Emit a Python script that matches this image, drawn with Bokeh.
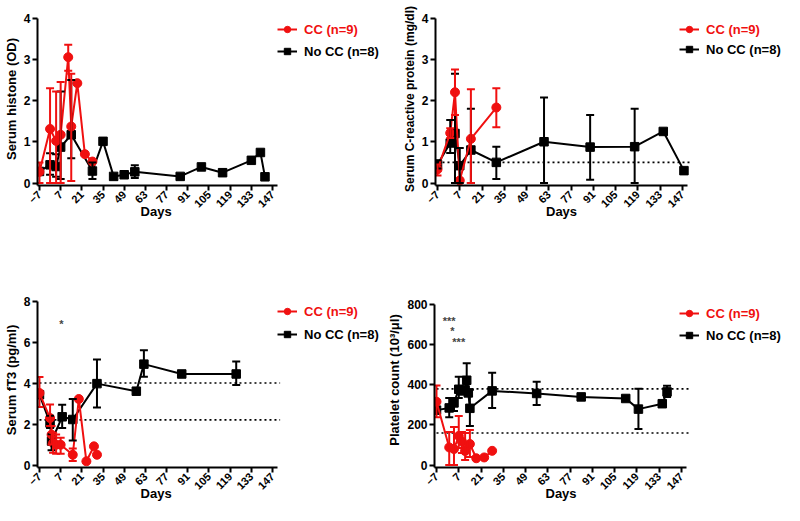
import math
from bokeh.plotting import figure
from bokeh.models import (ColumnDataSource, Whisker, TeeHead, Legend, LegendItem,
                          FixedTicker, Range1d)
from bokeh.layouts import column, row
from bokeh.embed import file_html
from bokeh.resources import INLINE
from bokeh.core.properties import value

FONT = "Liberation Sans"
RED = "#f01010"
BLACK = "#000000"

X_TICKS = [-7, 7, 21, 35, 49, 63, 77, 91, 105, 119, 133, 147]
X_AXIS_END = 150
REF_LINE_END = 152
X_TITLE = "Days"

# ---------------- Panel 1: serum histone ----------------
H_CC_DAYS = [-7, 0, 4, 7, 12, 14, 18, 23, 28]
H_CC_MEAN = [0.27, 1.31, 1.02, 1.17, 3.05, 1.37, 2.42, 0.70, 0.52]
H_CC_LOW = [0.00, 0.00, 0.00, 0.00, 2.72, 0.05, 2.42, 0.70, 0.52]
H_CC_HIGH = [0.50, 2.30, 2.22, 2.45, 3.35, 2.65, 2.42, 0.70, 0.52]

H_NO_DAYS = [-7, 0, 4, 7, 14, 28, 35, 42, 49, 56, 86, 100, 114, 133, 139, 142]
H_NO_MEAN = [0.28, 0.44, 0.40, 0.87, 1.17, 0.29, 1.01, 0.16, 0.20, 0.27, 0.16, 0.39, 0.25, 0.55, 0.74, 0.15]
H_NO_LOW = [0.28, 0.20, 0.15, 0.10, 0.60, 0.10, 1.01, 0.16, 0.20, 0.12, 0.16, 0.39, 0.18, 0.55, 0.74, 0.15]
H_NO_HIGH = [0.28, 0.72, 0.70, 2.22, 2.50, 0.50, 1.01, 0.16, 0.20, 0.43, 0.16, 0.39, 0.32, 0.55, 0.74, 0.15]
H_YTICKS = [0, 1, 2, 3, 4]
H_REF = []

# ---------------- Panel 2: C-reactive protein ----------------
C_CC_DAYS = [-7, 1, 4, 7, 14, 30]
C_CC_MEAN = [0.33, 1.21, 2.20, 0.06, 1.07, 1.83]
C_CC_LOW = [0.18, 1.09, 1.65, 0.06, 0.00, 1.35]
C_CC_HIGH = [0.45, 1.33, 2.75, 0.06, 2.27, 2.30]

C_NO_DAYS = [-7, 1, 4, 7, 14, 30, 60, 89, 117, 135, 148]
C_NO_MEAN = [0.45, 0.97, 1.20, 0.42, 0.80, 0.50, 1.00, 0.87, 0.88, 1.25, 0.30]
C_NO_LOW = [0.35, 0.73, 0.00, 0.00, 0.00, 0.10, 0.00, 0.08, 0.00, 1.25, 0.30]
C_NO_HIGH = [0.55, 1.53, 2.65, 0.85, 1.80, 0.88, 2.07, 1.65, 1.80, 1.25, 0.30]
C_YTICKS = [0, 1, 2, 3, 4]
C_REF = [0.5]

# ---------------- Panel 3: serum fT3 ----------------
T_CC_DAYS = [-7, 0, 1, 2, 4, 7, 15, 19, 24, 29, 31]
T_CC_MEAN = [3.51, 2.29, 1.48, 1.07, 0.99, 0.99, 0.50, 3.22, 0.18, 0.91, 0.50]
T_CC_LOW = [2.83, 1.90, 1.00, 0.60, 0.55, 0.55, 0.19, 3.22, 0.18, 0.91, 0.50]
T_CC_HIGH = [4.29, 2.95, 1.90, 1.57, 1.49, 1.33, 0.81, 3.22, 0.18, 0.91, 0.50]

T_NO_DAYS = [-7, 0, 1, 8, 15, 31, 57, 62, 87, 123]
T_NO_MEAN = [3.43, 2.05, 1.17, 2.35, 2.22, 3.97, 3.60, 4.92, 4.44, 4.44]
T_NO_LOW = [3.43, 1.80, 0.72, 1.80, 1.20, 2.80, 3.60, 4.30, 4.44, 3.90]
T_NO_HIGH = [3.43, 2.40, 1.50, 2.94, 3.22, 5.15, 3.60, 5.60, 4.44, 5.05]
T_YTICKS = [0, 2, 4, 6, 8]
T_REF = [4.0, 2.2]
T_SIG_DAYS = [7.5]
T_SIG_Y = [6.87]
T_SIG_TEXT = ["*"]

# ---------------- Panel 4: platelet count ----------------
P_CC_DAYS = [-7, 1, 4, 7, 9, 11, 14, 18, 23, 28]
P_CC_MEAN = [316, 88, 80, 145, 117, 70, 105, 34, 38, 71]
P_CC_LOW = [238, 0, 0, 85, 60, 25, 40, 34, 38, 71]
P_CC_HIGH = [397, 165, 190, 245, 165, 160, 175, 34, 38, 71]

P_NO_DAYS = [-7, 1, 4, 7, 9, 11, 12, 13, 14, 28, 56, 84, 112, 120, 135, 138]
P_NO_MEAN = [274, 285, 310, 378, 370, 375, 423, 360, 283, 370, 357, 340, 332, 279, 306, 365]
P_NO_LOW = [274, 238, 270, 335, 370, 375, 370, 360, 195, 285, 300, 340, 332, 180, 306, 340]
P_NO_HIGH = [274, 335, 335, 440, 370, 375, 508, 360, 375, 460, 415, 340, 332, 380, 306, 395]
P_YTICKS = [0, 200, 400, 600, 800]
P_REF = [380, 160]
P_SIG_DAYS = [1, 3, 7]
P_SIG_Y = [719, 667, 614]
P_SIG_TEXT = ["***", "*", "***"]

LABEL_CC = "CC (n=9)"
LABEL_NO = "No CC (n=8)"

XTITLE_PX = 13
NBSP_EM = 0.278  # advance width of a no-break space


def make_panel(ylabel, ylabel_size, yticks, ymax, cc, no, refs, sig, geom, legend_pos):
    width, height, bl, bt, bb, ppd, ppu = geom
    br = 3
    fw = width - bl - br
    fh = height - bt - bb
    x0 = -7 - 2.0 / ppd
    x1 = x0 + fw / ppd
    y0 = -2.5 / ppu
    y1 = y0 + fh / ppu
    p = figure(width=width, height=height, x_range=Range1d(x0, x1), y_range=Range1d(y0, y1),
               output_backend="svg", toolbar_location=None,
               min_border_left=bl, min_border_right=br, min_border_top=bt, min_border_bottom=bb)
    p.outline_line_color = None
    p.xgrid.visible = False
    p.ygrid.visible = False

    for v in refs:
        p.line([-7, REF_LINE_END], [v, v], line_color="black", line_width=1.6, line_dash="2 3")

    rend = {}
    for key, (days, mean, low, high), color, marker, size in (
            ("no", no, BLACK, "square", 8.5), ("cc", cc, RED, "circle", 9)):
        src = ColumnDataSource(dict(x=days, y=mean))
        lr = p.line("x", "y", source=src, line_color=color, line_width=2)
        idx = [i for i in range(len(days)) if low[i] < mean[i] or high[i] > mean[i]]
        wsrc = ColumnDataSource(dict(base=[days[i] for i in idx],
                                     lower=[low[i] for i in idx],
                                     upper=[high[i] for i in idx]))
        w = Whisker(source=wsrc, base="base", lower="lower", upper="upper", dimension="height",
                    line_color=color, line_width=2, level="glyph",
                    upper_head=TeeHead(size=8, line_color=color, line_width=2),
                    lower_head=TeeHead(size=8, line_color=color, line_width=2))
        p.add_layout(w)
        sr = p.scatter("x", "y", source=src, marker=marker, size=size,
                       fill_color=color, line_color=color)
        rend[key] = (lr, sr)

    if sig is not None:
        sd, sy, st = sig
        p.text(x=sd, y=sy, text=st, text_font=value(FONT), text_font_size="11px",
               text_font_style="bold", text_align="center", text_baseline="middle",
               text_color="#444444")

    for key, label, color, (vx, vy) in (("cc", LABEL_CC, RED, legend_pos[0]),
                                         ("no", LABEL_NO, BLACK, legend_pos[1])):
        leg = Legend(items=[LegendItem(label=label, renderers=list(rend[key]))],
                     location=(vx, vy), orientation="vertical",
                     label_text_font=FONT, label_text_font_size="13px",
                     label_text_font_style="bold", label_text_color=color,
                     glyph_width=20, glyph_height=16, label_height=16, label_standoff=7,
                     padding=0, margin=0, spacing=0, border_line_color=None,
                     background_fill_alpha=0)
        p.add_layout(leg)

    for ax in (p.xaxis[0], p.yaxis[0]):
        ax.axis_line_width = 2
        ax.axis_line_color = "black"
        ax.major_tick_line_width = 2
        ax.major_tick_line_color = "black"
        ax.major_tick_in = 0
        ax.major_tick_out = 5
        ax.minor_tick_line_color = None
        ax.major_label_text_font = FONT
        ax.major_label_text_font_style = "bold"
        ax.major_label_text_color = "black"
        ax.axis_label_text_font = FONT
        ax.axis_label_text_font_style = "bold"
        ax.axis_label_text_color = "black"
        ax.major_label_standoff = 2
        ax.axis_label_standoff = 2

    xa = p.xaxis[0]
    xa.ticker = FixedTicker(ticks=X_TICKS)
    xa.bounds = (x0, X_AXIS_END)
    xa.major_label_orientation = math.pi / 4
    xa.major_label_text_font_size = "11px"
    # the frame is wider than the drawn axis (legend room); pad the title so that
    # "Days" sits under the middle of the drawn axis line
    shift_px = fw / 2.0 - (X_AXIS_END - x0) * ppd / 2.0
    n_pad = int(round(2 * shift_px / (NBSP_EM * XTITLE_PX)))
    xa.axis_label = X_TITLE + "\u00a0" * n_pad
    xa.axis_label_text_font_size = "%dpx" % XTITLE_PX
    xa.axis_label_standoff = -10

    ya = p.yaxis[0]
    ya.ticker = FixedTicker(ticks=yticks)
    ya.bounds = (y0, ymax)
    ya.axis_label = ylabel
    ya.axis_label_text_font_size = ylabel_size
    ya.major_label_text_font_size = "12px"
    return p


# geometry: width, height, border_left, border_top, border_bottom, px/day, px/unit
pA = make_panel("Serum histone (OD)", "13px", H_YTICKS, 4,
                (H_CC_DAYS, H_CC_MEAN, H_CC_LOW, H_CC_HIGH),
                (H_NO_DAYS, H_NO_MEAN, H_NO_LOW, H_NO_HIGH),
                H_REF, None, (382, 260, 31, 12, 75, 1.54, 41.25),
                ((240, 148), (240, 126)))
pB = make_panel("Serum C-reactive protein (mg/dl)", "12px", C_YTICKS, 4,
                (C_CC_DAYS, C_CC_MEAN, C_CC_LOW, C_CC_HIGH),
                (C_NO_DAYS, C_NO_MEAN, C_NO_LOW, C_NO_HIGH),
                C_REF, None, (402, 260, 53, 12, 75, 1.59, 41.25),
                ((244, 148), (244, 128)))
pC = make_panel("Serum fT3 (pg/ml)", "13px", T_YTICKS, 8,
                (T_CC_DAYS, T_CC_MEAN, T_CC_LOW, T_CC_HIGH),
                (T_NO_DAYS, T_NO_MEAN, T_NO_LOW, T_NO_HIGH),
                T_REF, (T_SIG_DAYS, T_SIG_Y, T_SIG_TEXT), (382, 245, 31, 32, 38, 1.54, 20.5),
                ((240, 148), (240, 125)))
pD = make_panel("Platelet count (10\u00b3/\u03bcl)", "13px", P_YTICKS, 800,
                (P_CC_DAYS, P_CC_MEAN, P_CC_LOW, P_CC_HIGH),
                (P_NO_DAYS, P_NO_MEAN, P_NO_LOW, P_NO_HIGH),
                P_REF, (P_SIG_DAYS, P_SIG_Y, P_SIG_TEXT), (402, 245, 52, 32, 33, 1.59, 0.20625),
                ((245, 146), (245, 124)))

layout = column(row(pA, pB), row(pC, pD))
open("out.html", "w").write(file_html(layout, INLINE))
